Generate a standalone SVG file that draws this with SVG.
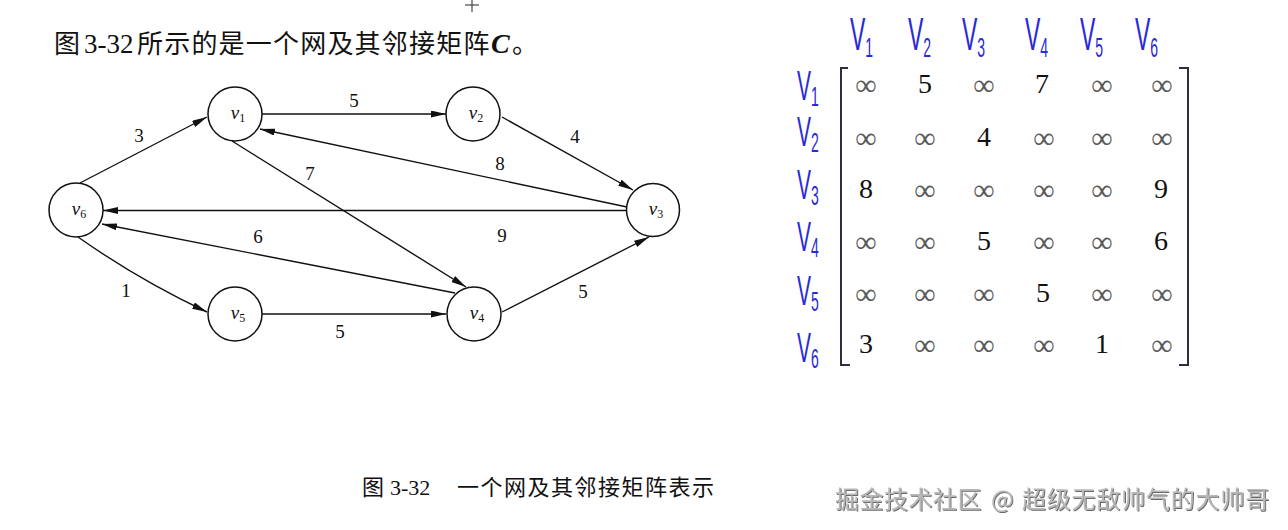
<svg xmlns="http://www.w3.org/2000/svg" width="1288" height="530" viewBox="0 0 1288 530">
<style>
  .serif { font-family: "Liberation Serif", "Noto Sans CJK SC", serif; fill: #111; }
  .head { font-size: 26px; }
  .cap { font-size: 22px; }
  .node circle { fill: #fff; stroke: #111; stroke-width: 1.5; }
  .nl { font-family: "Liberation Serif", serif; font-style: italic; font-size: 19px; fill: #111; text-anchor: middle; }
  .nl tspan { font-style: normal; font-size: 12px; }
  .edge { fill: none; stroke: #111; stroke-width: 1.4; marker-end: url(#arr); }
  .el { font-family: "Liberation Serif", serif; font-size: 19px; fill: #111; text-anchor: middle; }
  .hw { font-family: "Liberation Sans", Arial, sans-serif; fill: #2a2ad8; }
  .hwc { font-size: 46px; }
  .hwr { font-size: 42px; }
  .hw tspan { font-size: 28px; }
  .mx { font-family: "Liberation Serif", serif; font-size: 28px; fill: #111; text-anchor: middle; }
  .inf { font-family: "Liberation Serif", "DejaVu Serif", serif; font-size: 30px; fill: #5a5a5a; text-anchor: middle; }
  .br { fill: none; stroke: #2e2e40; stroke-width: 2; }
  .wm { font-family: "Noto Sans CJK SC", sans-serif; font-size: 24px; fill: #b8b8b8; filter: url(#sh); }
</style>
<defs>
  <marker id="arr" markerUnits="userSpaceOnUse" markerWidth="16" markerHeight="8" refX="15" refY="3.5" orient="auto">
    <path d="M0,0 L15,3.5 L0,7 z" fill="#111"/>
  </marker>
  <filter id="sh" x="-5%" y="-20%" width="110%" height="140%">
    <feDropShadow dx="1" dy="1" stdDeviation="0.6" flood-color="#444" flood-opacity="0.8"/>
  </filter>
</defs>
<rect width="1288" height="530" fill="#fff"/>

<!-- cursor cross -->
<g id="cursor" stroke="#222" stroke-width="1">
  <line x1="465" y1="5" x2="479" y2="5"/>
  <line x1="472" y1="0" x2="472" y2="12"/>
</g>

<!-- heading -->
<text id="heading" class="serif head" y="53"><tspan x="54">图</tspan><tspan x="84" font-size="27">3-32</tspan><tspan x="137" letter-spacing="1.2">所示的是一个网及其邻接矩阵</tspan><tspan x="491" font-style="italic" font-weight="bold" font-size="28">C</tspan><tspan x="512">。</tspan></text>

<!-- connectors -->
<g id="connectors">
  <path class="edge" d="M80,183 L207,117"/>
  <path class="edge" d="M262,114 L446,114"/>
  <path class="edge" d="M502,117 L633,190"/>
  <path class="edge" d="M627,207 L260,129"/>
  <path class="edge" d="M627,210.5 L103,210.5"/>
  <path class="edge" d="M232,141 L466,287"/>
  <path class="edge" d="M455,293 L102,224"/>
  <path class="edge" d="M78,237 Q139,280 207,312"/>
  <path class="edge" d="M262,314 L446,314"/>
  <path class="edge" d="M502,312 L649,237"/>
  <text class="el" x="139" y="142">3</text>
  <text class="el" x="354" y="107">5</text>
  <text class="el" x="575" y="143">4</text>
  <text class="el" x="500" y="170">8</text>
  <text class="el" x="502" y="242">9</text>
  <text class="el" x="310" y="180">7</text>
  <text class="el" x="258" y="243">6</text>
  <text class="el" x="126" y="297">1</text>
  <text class="el" x="340" y="338">5</text>
  <text class="el" x="583" y="298">5</text>
</g>

<!-- nodes -->
<g id="v1" class="node"><circle cx="235" cy="114" r="27"/><text class="nl" x="238" y="118.5">v<tspan dy="3">1</tspan></text></g>
<g id="v2" class="node"><circle cx="473" cy="114" r="27"/><text class="nl" x="476" y="118.5">v<tspan dy="3">2</tspan></text></g>
<g id="v3" class="node"><circle cx="653" cy="210" r="26.5"/><text class="nl" x="656" y="214.5">v<tspan dy="3">3</tspan></text></g>
<g id="v4" class="node"><circle cx="474" cy="314" r="27"/><text class="nl" x="477" y="318.5">v<tspan dy="3">4</tspan></text></g>
<g id="v5" class="node"><circle cx="235" cy="314" r="27"/><text class="nl" x="238" y="318.5">v<tspan dy="3">5</tspan></text></g>
<g id="v6" class="node"><circle cx="76" cy="210" r="27"/><text class="nl" x="79" y="214.5">v<tspan dy="3">6</tspan></text></g>

<!-- matrix -->
<g id="matrix">
  <path class="br" d="M848,68 L841,68 L841,365 L850,365"/>
  <path class="br" d="M1179,68 L1188,68 L1188,365 L1179,365"/>

  <g id="col-labels">
    <g transform="translate(850,50) scale(0.5,1)"><text class="hw hwc">V<tspan dy="7">1</tspan></text></g>
    <g transform="translate(908,50) scale(0.5,1)"><text class="hw hwc">V<tspan dy="7">2</tspan></text></g>
    <g transform="translate(962,50) scale(0.5,1)"><text class="hw hwc">V<tspan dy="7">3</tspan></text></g>
    <g transform="translate(1025,50) scale(0.5,1)"><text class="hw hwc">V<tspan dy="7">4</tspan></text></g>
    <g transform="translate(1080,50) scale(0.5,1)"><text class="hw hwc">V<tspan dy="7">5</tspan></text></g>
    <g transform="translate(1135,50) scale(0.5,1)"><text class="hw hwc">V<tspan dy="7">6</tspan></text></g>
  </g>
  <g id="row-labels">
    <g transform="translate(797,100) scale(0.5,1)"><text class="hw hwr">V<tspan dy="6">1</tspan></text></g>
    <g transform="translate(797,146) scale(0.5,1)"><text class="hw hwr">V<tspan dy="6">2</tspan></text></g>
    <g transform="translate(797,199) scale(0.5,1)"><text class="hw hwr">V<tspan dy="6">3</tspan></text></g>
    <g transform="translate(797,251) scale(0.5,1)"><text class="hw hwr">V<tspan dy="6">4</tspan></text></g>
    <g transform="translate(797,305) scale(0.5,1)"><text class="hw hwr">V<tspan dy="6">5</tspan></text></g>
    <g transform="translate(797,362) scale(0.5,1)"><text class="hw hwr">V<tspan dy="6">6</tspan></text></g>
  </g>

  <!-- row 1 -->
  <text class="inf" x="866" y="95">∞</text><text class="mx" x="925" y="93">5</text><text class="inf" x="984" y="95">∞</text><text class="mx" x="1042" y="93">7</text><text class="inf" x="1102" y="95">∞</text><text class="inf" x="1162" y="95">∞</text>
  <!-- row 2 -->
  <text class="inf" x="866" y="148">∞</text><text class="inf" x="925" y="148">∞</text><text class="mx" x="984" y="146">4</text><text class="inf" x="1044" y="148">∞</text><text class="inf" x="1102" y="148">∞</text><text class="inf" x="1162" y="148">∞</text>
  <!-- row 3 -->
  <text class="mx" x="866" y="198">8</text><text class="inf" x="925" y="200">∞</text><text class="inf" x="984" y="200">∞</text><text class="inf" x="1044" y="200">∞</text><text class="inf" x="1102" y="200">∞</text><text class="mx" x="1161" y="198">9</text>
  <!-- row 4 -->
  <text class="inf" x="866" y="252">∞</text><text class="inf" x="925" y="252">∞</text><text class="mx" x="984" y="250">5</text><text class="inf" x="1044" y="252">∞</text><text class="inf" x="1102" y="252">∞</text><text class="mx" x="1161" y="250">6</text>
  <!-- row 5 -->
  <text class="inf" x="866" y="304">∞</text><text class="inf" x="925" y="304">∞</text><text class="inf" x="984" y="304">∞</text><text class="mx" x="1043" y="302">5</text><text class="inf" x="1102" y="304">∞</text><text class="inf" x="1162" y="304">∞</text>
  <!-- row 6 -->
  <text class="mx" x="866" y="353">3</text><text class="inf" x="925" y="355">∞</text><text class="inf" x="984" y="355">∞</text><text class="inf" x="1044" y="355">∞</text><text class="mx" x="1102" y="353">1</text><text class="inf" x="1162" y="355">∞</text>
</g>

<!-- caption -->
<text id="caption" class="serif cap" y="495"><tspan x="362">图</tspan><tspan x="390">3-32</tspan><tspan x="457" letter-spacing="1.5">一个网及其邻接矩阵表示</tspan></text>

<!-- watermark -->
<text id="watermark" class="wm" y="508"><tspan x="835" letter-spacing="0.5">掘金技术社区</tspan><tspan x="991">@</tspan><tspan x="1022" letter-spacing="0.8">超级无敌帅气的大帅哥</tspan></text>
</svg>
